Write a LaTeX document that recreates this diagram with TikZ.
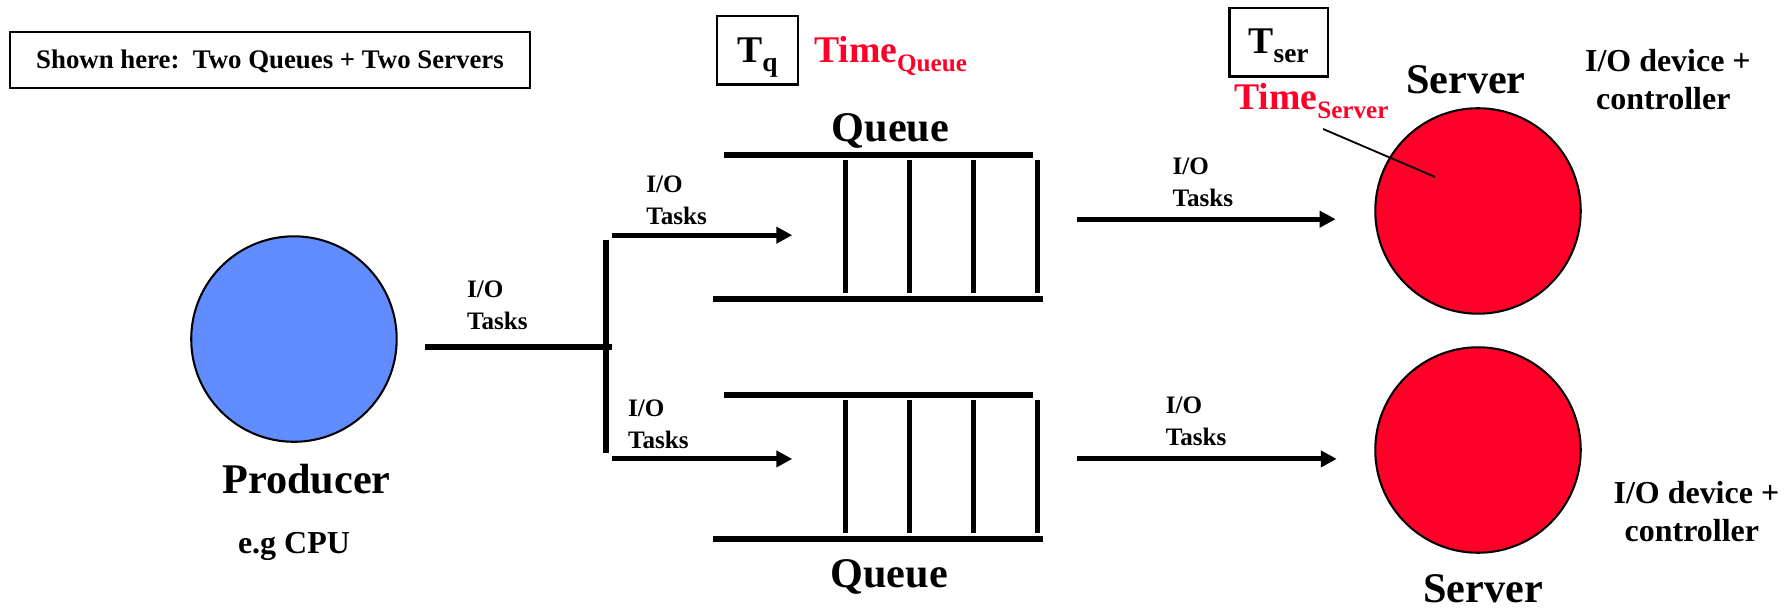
\documentclass[tikz,border=0pt]{standalone}
\usepackage{fontspec}
\setmainfont{Liberation Serif}
\usetikzlibrary{arrows.meta}

\definecolor{cpublue}{RGB}{96,140,255}
\definecolor{srvred}{RGB}{255,0,41}

% lowered subscript in text mode
\newcommand\tsub[2][22]{\raisebox{-8pt}{\fontsize{#1}{#1}\selectfont #2}}

\begin{document}
\begin{tikzpicture}[x=1pt,y=-1pt,
    lbl/.style={font=\fontsize{22}{26}\selectfont\bfseries, inner sep=0pt, anchor=base west},
    big/.style={font=\fontsize{37}{40}\selectfont\bfseries, inner sep=0pt, anchor=base},
    mid/.style={font=\fontsize{28}{32}\selectfont\bfseries, inner sep=0pt, anchor=base},
    tfont/.style={font=\fontsize{33}{36}\selectfont\bfseries},
    tbox/.style={draw, line width=2pt, inner sep=0pt, anchor=base},
    flow/.style={line width=4.5pt, -{Triangle[length=14pt,width=14pt]}},
    wall/.style={line width=5pt},
    slot/.style={line width=4.5pt},
    ball/.style={circle, draw, line width=1.8pt, minimum size=180pt, inner sep=0pt}]
  \useasboundingbox (0,0) rectangle (1568,533);

  % header box
  \node[tbox, minimum width=455pt, text height=32pt, text depth=17pt,
        font=\fontsize{23.5}{26}\selectfont\bfseries] (shown) at (236.5,60)
        {Shown here:\ \ Two Queues + Two Servers};

  % producer
  \node[ball, fill=cpublue] (prod) at (257.5,297) {};
  \node[big] (prodlbl) at (268.5,432) {Producer};
  \node[mid] (cpulbl) at (257.5,485) {e.g CPU};

  % the two servers
  \node[ball, fill=srvred] (srvA) at (1294.7,184.8) {};
  \node[ball, fill=srvred] (srvB) at (1294.7,394.2) {};
  \node[big] (srvAlbl) at (1284,81.5) {Server};
  \node[big] (srvBlbl) at (1299,528) {Server};
  \foreach \x/\y [count=\i] in {1461/63, 1486/441} {
    \node[mid] (dev\i) at (\x,\y) {I/O device +};
    \node[mid] (ctl\i) at (\x-4,\y+33) {controller};
  }

  % queues
  \foreach \dy in {0,210} {
    \draw[wall] (634,{136+\dy}) -- (905,{136+\dy});
    \draw[wall] (625,{262+\dy}) -- (914,{262+\dy});
    \foreach \x in {741,797,853,909}
      \draw[slot] (\x,{140+\dy}) -- (\x,{257+\dy});
  }
  \node[big] (qAlbl) at (780,124) {Queue};
  \node[big] (qBlbl) at (779,515) {Queue};

  % timing marks
  \node[tbox, tfont, minimum width=71pt, text height=41pt, text depth=19pt]
        (tq) at (663.5,55) {T\tsub[24]{q}};
  \node[tfont, text=srvred, inner sep=0pt, anchor=base west] (tmq) at (713,55) {Time\tsub{Queue}};
  \node[tbox, tfont, minimum width=86pt, text height=40pt, text depth=20pt]
        (tser) at (1120,47) {T\tsub[24]{ser}};
  \node[tfont, text=srvred, inner sep=0pt, anchor=base west] (tms) at (1081,96) {Time\tsub{Server}};
  \coordinate (tmsend) at (1159,113);
  \coordinate (srvmark) at (1257,155);
  \draw[line width=1.6pt] (tmsend) -- (srvmark);

  % flow of tasks
  \coordinate (split) at (536,304);
  \coordinate (forkA) at (531,210);
  \coordinate (forkB) at (531,397);
  \draw[wall] ([xshift=24pt]prod.east |- split) -- (split);
  \draw[wall] (forkA) -- (forkB);
  \draw[flow] (536,206) -- (694,206);
  \draw[flow] (536,402) -- (694,402);
  \draw[flow] (943,192) -- (1170,192);
  \draw[flow] (943,402) -- (1171,402);

  \foreach \x/\y [count=\i] in {409/261, 566/169, 550/365, 1027/153, 1021/362} {
    \node[lbl] (io\i) at (\x,\y) {I/O};
    \node[lbl] (task\i) at (\x,\y+28) {Tasks};
  }
\end{tikzpicture}
\end{document}
